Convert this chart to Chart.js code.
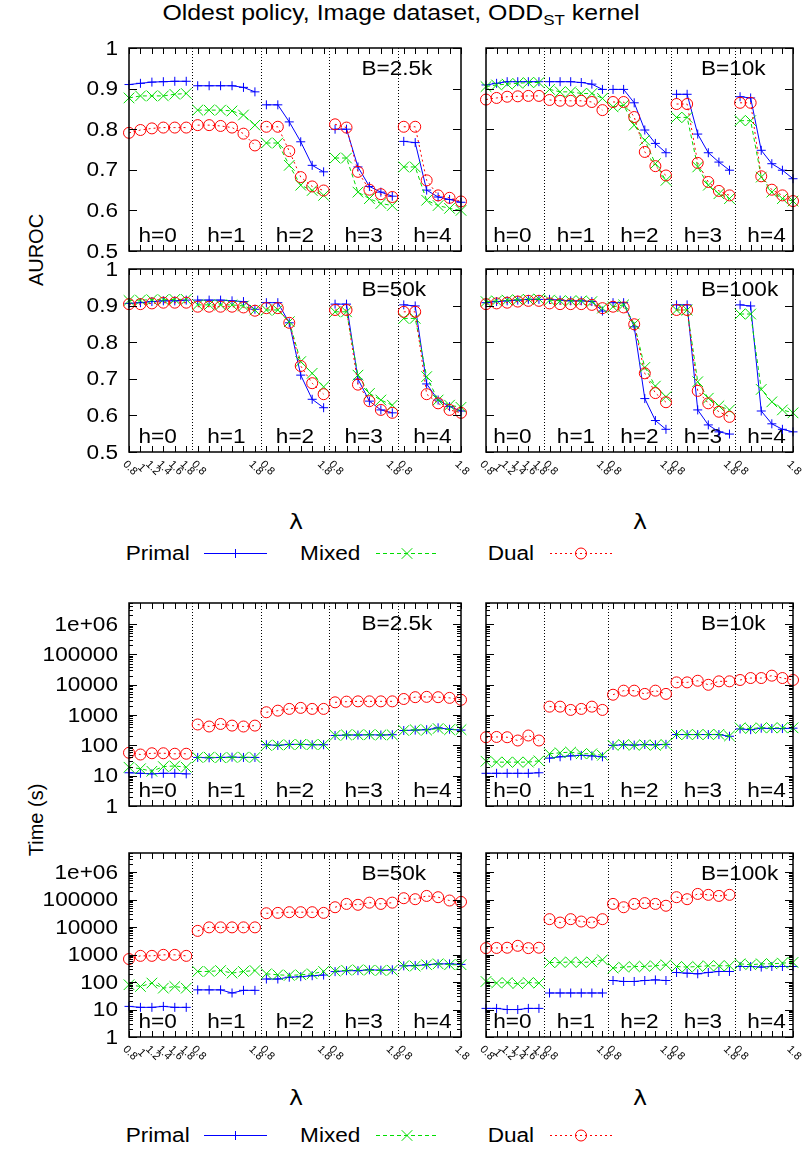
<!DOCTYPE html>
<html>
<head>
<meta charset="utf-8">
<script src="https://cdn.jsdelivr.net/npm/chart.js@4.4.1/dist/chart.umd.min.js"></script>
<style>
  body { margin: 0; width: 804px; height: 1154px; position: relative; background: #fff; overflow: hidden;
         font-family: "Liberation Sans", Arial, sans-serif; color: #000; }
  canvas { position: absolute; }
  .t { position: absolute; white-space: nowrap; font-size: 20px; line-height: 1; }
  .c { transform: translate(-50%, -50%) scaleX(1.13); }
  .r { transform: translateY(-50%) scaleX(1.13); transform-origin: right center; }
  .v { transform: translate(-50%, -50%) rotate(-90deg); }
  .lam { font-family: "DejaVu Sans", sans-serif; font-size: 21px; }
  sub { font-size: 15px; vertical-align: -5px; }
</style>
</head>
<body>
<div class="t c" style="left:401px;top:14px;font-size:22px">Oldest policy, Image dataset, ODD<sub>ST</sub> kernel</div>
<div class="t v" style="left:36px;top:250px">AUROC</div>
<div class="t v" style="left:36px;top:820px">Time (s)</div>
<div class="t c lam" style="left:296px;top:522px">λ</div>
<div class="t c lam" style="left:640px;top:522px">λ</div>
<div class="t c lam" style="left:296px;top:1098px">λ</div>
<div class="t c lam" style="left:640px;top:1098px">λ</div>
<div id="legends"></div>

<script>
// λ axis: 5 blocks (h=0..4) of 6 λ values each, x index 0..29
const hLabels = ['h=0', 'h=1', 'h=2', 'h=3', 'h=4'];
const lambdaTickIdx = [0, 1, 2, 3, 4, 5, 6, 11, 12, 17, 18, 23, 24, 29];
const lambdaTickText = ['0.8', '1', '1.2', '1.4', '1.6', '1.8', '0.8', '1.8', '0.8', '1.8', '0.8', '1.8', '0.8', '1.8'];
const aurocTicks = [0.5, 0.6, 0.7, 0.8, 0.9, 1];
const aurocTickText = ['0.5', '0.6', '0.7', '0.8', '0.9', '1'];
const timeTicks = [1, 10, 100, 1000, 10000, 100000, 1000000];
const timeTickText = ['1', '10', '100', '1000', '10000', '100000', '1e+06'];
const seriesNames = ['Primal', 'Mixed', 'Dual'];

// AUROC, B=2.5k
const aurocPrimal2k5 = [0.910,0.913,0.916,0.917,0.918,0.918, 0.907,0.907,0.907,0.907,0.903,0.892, 0.860,0.860,0.818,0.769,0.711,0.695, 0.800,0.800,0.707,0.659,0.645,0.635, 0.770,0.767,0.650,0.633,0.627,0.620];
const aurocMixed2k5  = [0.877,0.882,0.882,0.882,0.886,0.888, 0.847,0.847,0.847,0.845,0.835,0.810, 0.766,0.766,0.711,0.662,0.649,0.637, 0.729,0.729,0.645,0.629,0.617,0.612, 0.707,0.707,0.625,0.612,0.605,0.600];
const aurocDual2k5   = [0.791,0.798,0.802,0.804,0.804,0.804, 0.810,0.810,0.808,0.804,0.789,0.760, 0.806,0.806,0.746,0.682,0.659,0.649, 0.812,0.804,0.695,0.651,0.640,0.633, 0.806,0.806,0.674,0.637,0.631,0.622];
// AUROC, B=10k
const aurocPrimal10k = [0.909,0.913,0.917,0.917,0.917,0.917, 0.917,0.917,0.917,0.915,0.911,0.898, 0.898,0.898,0.865,0.798,0.765,0.742, 0.886,0.886,0.788,0.742,0.719,0.699, 0.880,0.877,0.748,0.715,0.699,0.678];
const aurocMixed10k  = [0.905,0.909,0.911,0.913,0.915,0.915, 0.898,0.892,0.892,0.888,0.888,0.876, 0.855,0.859,0.810,0.773,0.715,0.674, 0.829,0.829,0.707,0.662,0.641,0.629, 0.821,0.821,0.682,0.645,0.629,0.623];
const aurocDual10k   = [0.873,0.877,0.880,0.881,0.882,0.882, 0.872,0.870,0.870,0.870,0.867,0.847, 0.867,0.867,0.830,0.744,0.709,0.686, 0.862,0.862,0.717,0.670,0.648,0.637, 0.865,0.865,0.684,0.651,0.637,0.623];
// AUROC, B=50k
const aurocPrimal50k = [0.906,0.908,0.911,0.913,0.913,0.915, 0.915,0.915,0.915,0.913,0.911,0.890, 0.908,0.908,0.853,0.710,0.644,0.621, 0.904,0.904,0.699,0.639,0.615,0.607, 0.902,0.899,0.686,0.642,0.624,0.612];
const aurocMixed50k  = [0.914,0.915,0.916,0.916,0.917,0.917, 0.902,0.902,0.902,0.902,0.899,0.888, 0.888,0.888,0.856,0.747,0.715,0.678, 0.883,0.883,0.710,0.660,0.642,0.628, 0.865,0.865,0.706,0.642,0.628,0.622];
const aurocDual50k   = [0.904,0.904,0.906,0.908,0.908,0.908, 0.897,0.897,0.897,0.897,0.895,0.886, 0.893,0.893,0.853,0.735,0.688,0.658, 0.888,0.888,0.684,0.639,0.615,0.607, 0.883,0.883,0.658,0.633,0.615,0.607];
// AUROC, B=100k (no Dual run for h=4)
const aurocPrimal100k = [0.908,0.911,0.913,0.915,0.917,0.917, 0.917,0.915,0.913,0.913,0.911,0.885, 0.908,0.908,0.842,0.646,0.586,0.562, 0.902,0.902,0.615,0.574,0.555,0.549, 0.902,0.899,0.612,0.577,0.562,0.555];
const aurocMixed100k  = [0.911,0.913,0.915,0.916,0.917,0.918, 0.915,0.913,0.913,0.913,0.911,0.893, 0.897,0.902,0.850,0.731,0.680,0.651, 0.888,0.888,0.692,0.647,0.626,0.615, 0.877,0.877,0.671,0.637,0.615,0.607];
const aurocDual100k   = [0.904,0.906,0.908,0.911,0.913,0.913, 0.906,0.904,0.904,0.904,0.902,0.893, 0.897,0.895,0.849,0.715,0.661,0.636, 0.888,0.888,0.667,0.633,0.610,0.596, null,null,null,null,null,null];

// Time (s), B=2.5k
const timePrimal2k5 = [12.5,12,11.5,12,12,11.5, 40,39,40,41,40,40, 105,100,108,108,105,105, 212,220,220,225,220,225, 310,320,330,380,340,320];
const timeMixed2k5  = [19,17,14,20,21,19, 40,41,39,40,41,40, 100,103,105,108,106,106, 215,222,224,224,222,222, 310,330,320,360,330,330];
const timeDual2k5   = [57,50,55,55,53,53, 490,420,510,450,420,450, 1240,1400,1600,1730,1600,1600, 2640,2780,2840,2840,2840,2840, 3400,3900,4000,3900,3700,3200];
// Time (s), B=10k
const timePrimal10k = [12,12,12,12,12,12.5, 38,42,45,47,45,42, 100,105,102,107,105,108, 228,228,228,228,228,200, 350,330,370,360,360,370];
const timeMixed10k  = [30,28,28,28,28,31, 53,57,60,53,53,47, 100,107,100,105,100,108, 228,228,228,228,232,205, 380,360,380,380,380,380];
const timeDual10k   = [186,190,186,145,212,145, 1900,1900,1480,1600,1900,1480, 4700,6400,6400,5000,6400,5000, 12000,12000,13600,10000,13000,13000, 14400,16700,16700,20000,16700,14400];
// Time (s), B=50k
const timePrimal50k = [13,12,12,13,12,12, 52,52,52,40,50,50, 129,129,150,157,170,180, 240,260,260,280,270,280, 390,400,426,460,460,440];
const timeMixed50k  = [80,69,92,60,69,60, 243,243,263,212,243,263, 200,184,175,184,200,243, 250,270,280,270,263,270, 392,380,426,462,426,430];
const timeDual50k   = [690,900,900,980,980,900, 7300,9800,9800,9800,9800,9800, 32000,33000,35000,35000,35000,33000, 53000,70000,65000,78000,70000,78000, 113000,104000,137000,123000,93000,83000];
// Time (s), B=100k (no Dual run for h=4)
const timePrimal100k = [11,11,10,10,11,11, 40,40,40,40,40,40, 114,105,105,114,120,114, 223,210,200,223,243,243, 369,369,351,369,369,369];
const timeMixed100k  = [105,92,96,87,96,92, 517,517,540,517,540,646, 323,351,369,369,392,426, 369,351,369,392,392,392, 462,426,462,462,490,517];
const timeDual100k   = [1720,1750,1780,2090,1720,1780, 19500,14700,19500,16000,14700,19500, 70000,53000,70000,75000,70000,60000, 123000,104000,162000,150000,137000,150000, null,null,null,null,null,null];

const SX = 1.13;                       // glyphs in the reference are a bit wide
const FONT = '20px "Liberation Sans", Arial, sans-serif';
const styles = [
  { color: '#0000ff', dash: [],     point: 'cross',    radius: 4.5, order: 3 },
  { color: '#00dd00', dash: [4, 3], point: 'crossRot', radius: 7.5, order: 2 },
  { color: '#ff0000', dash: [2, 3], point: 'circle',   radius: 5.5, order: 1 }
];

function txt(ctx, s, x, y, align) {
  ctx.save();
  ctx.translate(x, y);
  ctx.scale(SX, 1);
  ctx.textAlign = align;
  ctx.fillText(s, 0, 0);
  ctx.restore();
}
function seg(ctx, x1, y1, x2, y2) {
  ctx.beginPath(); ctx.moveTo(x1, y1); ctx.lineTo(x2, y2); ctx.stroke();
}

// gnuplot-like frame: dividers, inward ticks, labels
const gnuFrame = {
  id: 'gnuFrame',
  beforeDatasetsDraw(chart, args, o) {
    const { ctx, chartArea: a, scales: { x } } = chart;
    ctx.save();
    ctx.strokeStyle = '#000';
    ctx.lineWidth = 1;
    ctx.setLineDash([1, 2]);
    for (let h = 1; h < 5; h++) {
      const px = Math.round(x.getPixelForValue(6 * h - 0.5)) + 0.5;
      seg(ctx, px, a.top, px, a.bottom);
    }
    ctx.setLineDash([]);
    ctx.fillStyle = '#000';
    ctx.font = FONT;
    ctx.textBaseline = 'alphabetic';
    hLabels.forEach((s, h) => txt(ctx, s, x.getPixelForValue(6 * h + 2.5), a.bottom - 9, 'center'));
    txt(ctx, o.tag, a.left + 0.70 * (a.right - a.left), a.top + 27, 'left');
    ctx.restore();
  },
  afterDatasetsDraw(chart, args, o) {
    const { ctx, chartArea: a, scales: { x, y } } = chart;
    ctx.save();
    ctx.strokeStyle = '#000';
    ctx.lineWidth = 1;
    for (let i = 0; i < 30; i++) {
      const px = Math.round(x.getPixelForValue(i)) + 0.5;
      seg(ctx, px, a.bottom, px, a.bottom - 6);
      seg(ctx, px, a.top, px, a.top + 6);
    }
    const major = o.log ? timeTicks : aurocTicks;
    major.forEach(v => {
      const py = Math.round(y.getPixelForValue(v)) + 0.5;
      seg(ctx, a.left, py, a.left + 8, py);
      seg(ctx, a.right, py, a.right - 8, py);
    });
    if (o.log) {
      for (let d = 0; d < 7; d++) {
        for (let k = 2; k < 10; k++) {
          const v = k * Math.pow(10, d);
          if (v > y.max) continue;
          const py = Math.round(y.getPixelForValue(v)) + 0.5;
          seg(ctx, a.left, py, a.left + 4, py);
          seg(ctx, a.right, py, a.right - 4, py);
        }
      }
    }
    ctx.lineWidth = 1.5;
    ctx.strokeRect(a.left, a.top, a.right - a.left, a.bottom - a.top);

    ctx.fillStyle = '#000';
    if (o.yLab) {
      ctx.font = FONT;
      ctx.textBaseline = 'middle';
      const texts = o.log ? timeTickText : aurocTickText;
      major.forEach((v, i) => txt(ctx, texts[i], a.left - 11, y.getPixelForValue(v) + 1, 'right'));
    }
    if (o.xLab) {
      ctx.font = '11px "Liberation Sans", Arial, sans-serif';
      ctx.textBaseline = 'middle';
      ctx.textAlign = 'center';
      lambdaTickIdx.forEach((idx, i) => {
        ctx.save();
        ctx.translate(x.getPixelForValue(idx) + 1, a.bottom + 16);
        ctx.rotate(Math.PI / 4);
        ctx.fillText(lambdaTickText[i], 0, 0);
        ctx.restore();
      });
    }
    ctx.restore();
  }
};

// split the 30 values into the 5 h blocks (no line across blocks)
function toPoints(values) {
  const out = [];
  values.forEach((v, i) => {
    if (i > 0 && i % 6 === 0) out.push({ x: i - 0.5, y: null });
    out.push({ x: i, y: v });
  });
  return out;
}

const panels = [
  { tag: 'B=2.5k', log: false, box: [129, 48, 461, 251],   yLab: true,  xLab: false, series: [aurocPrimal2k5, aurocMixed2k5, aurocDual2k5] },
  { tag: 'B=10k',  log: false, box: [486, 48, 793, 251],   yLab: false, xLab: false, series: [aurocPrimal10k, aurocMixed10k, aurocDual10k] },
  { tag: 'B=50k',  log: false, box: [129, 269, 461, 452],  yLab: true,  xLab: true,  series: [aurocPrimal50k, aurocMixed50k, aurocDual50k] },
  { tag: 'B=100k', log: false, box: [486, 269, 793, 452],  yLab: false, xLab: true,  series: [aurocPrimal100k, aurocMixed100k, aurocDual100k] },
  { tag: 'B=2.5k', log: true,  box: [129, 603, 461, 806],  yLab: true,  xLab: false, series: [timePrimal2k5, timeMixed2k5, timeDual2k5] },
  { tag: 'B=10k',  log: true,  box: [486, 603, 793, 806],  yLab: false, xLab: false, series: [timePrimal10k, timeMixed10k, timeDual10k] },
  { tag: 'B=50k',  log: true,  box: [129, 853, 461, 1037], yLab: true,  xLab: true,  series: [timePrimal50k, timeMixed50k, timeDual50k] },
  { tag: 'B=100k', log: true,  box: [486, 853, 793, 1037], yLab: false, xLab: true,  series: [timePrimal100k, timeMixed100k, timeDual100k] }
];

panels.forEach(p => {
  const [l, t, r, b] = p.box;
  const padL = p.yLab ? l : 16, padT = 10, padR = 11, padB = p.xLab ? 45 : 12;
  const cv = document.createElement('canvas');
  cv.width = padL + (r - l) + padR;
  cv.height = padT + (b - t) + padB;
  cv.style.left = (l - padL) + 'px';
  cv.style.top = (t - padT) + 'px';
  document.body.appendChild(cv);

  new Chart(cv, {
    type: 'line',
    data: {
      datasets: p.series.map((vals, k) => ({
        label: seriesNames[k],
        data: toPoints(vals),
        borderColor: styles[k].color,
        borderWidth: 1,
        borderDash: styles[k].dash,
        pointStyle: styles[k].point,
        pointRadius: styles[k].radius,
        pointBorderColor: styles[k].color,
        pointBackgroundColor: 'rgba(0,0,0,0)',
        pointBorderWidth: 1,
        tension: 0,
        spanGaps: false,
        clip: false,
        order: styles[k].order
      }))
    },
    options: {
      responsive: false,
      animation: false,
      devicePixelRatio: 1,
      layout: { padding: { left: padL, top: padT, right: padR, bottom: padB } },
      scales: {
        x: { type: 'linear', min: 0, max: 29, display: false },
        y: p.log ? { type: 'logarithmic', min: 1, max: 5e6, display: false }
                 : { type: 'linear', min: 0.5, max: 1, display: false }
      },
      plugins: {
        legend: { display: false },
        tooltip: { enabled: false },
        gnuFrame: { tag: p.tag, log: p.log, yLab: p.yLab, xLab: p.xLab }
      }
    },
    plugins: [gnuFrame]
  });
});

// key rows under each group of panels
const keyItems = [
  { textRight: 190, x1: 204, x2: 267 },
  { textRight: 360, x1: 376, x2: 438 },
  { textRight: 534, x1: 550, x2: 612 }
];
function markerSvg(k, cx, cy) {
  const c = styles[k].color;
  if (k === 0) return `<path d="M${cx - 4.5} ${cy}H${cx + 4.5}M${cx} ${cy - 4.5}V${cy + 4.5}" stroke="${c}" stroke-width="1"/>`;
  if (k === 1) return `<path d="M${cx - 5.3} ${cy - 5.3}L${cx + 5.3} ${cy + 5.3}M${cx - 5.3} ${cy + 5.3}L${cx + 5.3} ${cy - 5.3}" stroke="${c}" stroke-width="1"/>`;
  return `<circle cx="${cx}" cy="${cy}" r="5.5" fill="none" stroke="${c}" stroke-width="1"/>`;
}
let html = '';
[553, 1135].forEach(yc => {
  let svg = `<svg width="804" height="24" style="position:absolute;left:0;top:${yc - 12}px">`;
  keyItems.forEach((it, k) => {
    html += `<div class="t r" style="right:${804 - it.textRight}px;top:${yc}px">${seriesNames[k]}</div>`;
    const dash = styles[k].dash.length ? ` stroke-dasharray="${styles[k].dash.join(' ')}"` : '';
    svg += `<line x1="${it.x1}" y1="12.5" x2="${it.x2}" y2="12.5" stroke="${styles[k].color}" stroke-width="1"${dash}/>`;
    svg += markerSvg(k, (it.x1 + it.x2) / 2, 12.5);
  });
  html += svg + '</svg>';
});
document.getElementById('legends').innerHTML = html;
</script>
</body>
</html>
